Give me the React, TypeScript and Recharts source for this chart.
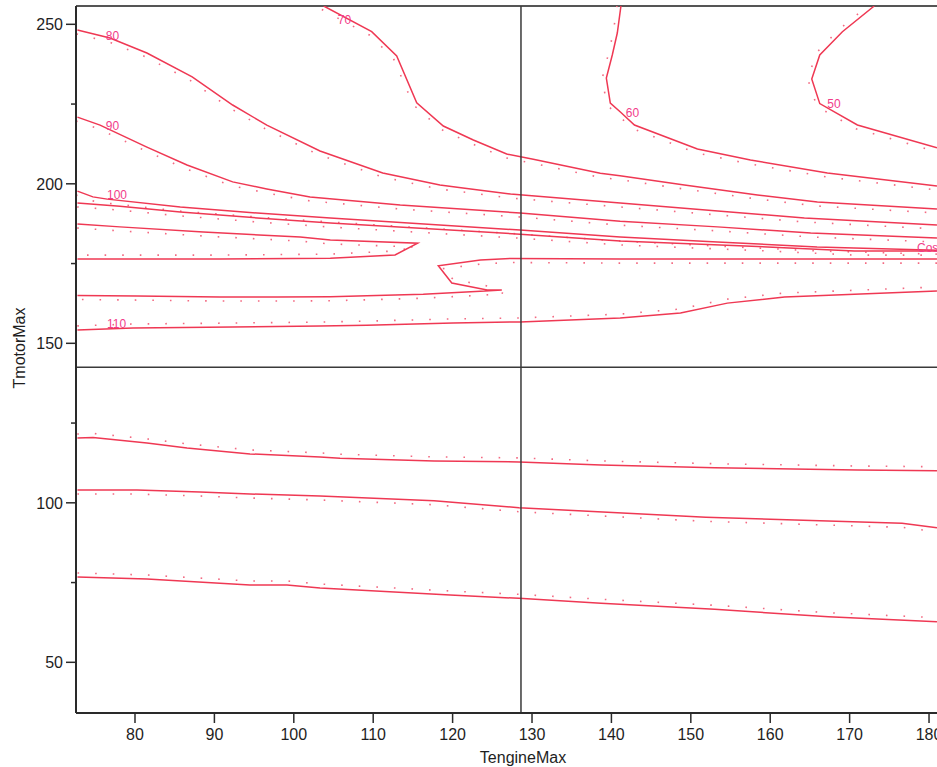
import React from 'react';
import { ComposedChart, Line, Scatter, XAxis, YAxis, ReferenceLine } from 'recharts';

// ---- axis settings ----
const X_MIN = 72.57;
const X_MAX = 185.16;
const Y_MIN = 34.11;
const Y_MAX = 255.74;
const xTicks = [80, 90, 100, 110, 120, 130, 140, 150, 160, 170, 180];
const yTicks = [50, 75, 100, 125, 150, 175, 200, 225, 250];
const crossX = 128.61;
const crossY = 142.48;

// ---- contour lines [TengineMax, TmotorMax] ----
const contour80 = [[72.75,248.2],[76.85,245.7],[81.5,241.0],[87.2,233.5],[92.3,224.7],[96.6,218.4],[103.3,210.3],[111.2,203.4],[118.4,199.6],[121.3,198.7],[127.3,196.8],[141.1,194.0],[153.4,191.5],[164.3,189.3],[181.0,187.1]];
const contour90 = [[72.75,220.9],[75.6,218.4],[81.5,211.5],[86.55,205.9],[92.3,200.6],[96.6,198.4],[102.05,195.9],[113.4,193.35],[128.5,190.85],[141.1,188.3],[153.35,186.5],[165.1,184.6],[181.0,183.0]];
const contour100 = [[72.75,197.7],[74.7,195.9],[76.5,195.2],[85.7,192.7],[95.4,190.85],[104.6,189.3],[128.5,185.5],[141.1,183.3],[153.35,181.75],[165.9,180.2],[181.0,179.2]];
const contourL5 = [[72.75,194.0],[78.1,193.0],[85.7,191.2],[95.4,189.3],[104.6,187.7],[128.5,184.2],[141.1,182.1],[159.65,180.2],[170.6,178.9],[181.0,178.9]];
const contourTongue1 = [[72.75,187.4],[78.1,186.5],[88.6,184.9],[100.8,183.3],[104.6,182.4],[115.6,181.4],[112.75,177.7],[104.6,176.7],[90.7,176.4],[72.75,176.4]];
const contourTongue2 = [[181.0,176.4],[141.1,176.4],[127.25,176.6],[123.5,176.1],[118.2,174.3],[119.9,168.9],[124.35,166.7],[126.2,166.7],[124.1,166.4],[116.3,165.4],[109.2,164.9],[104.6,164.6],[97.9,164.5],[90.7,164.5],[80.25,164.8],[72.75,165.0]];
const contour110 = [[72.75,154.2],[79.75,154.8],[92.3,155.1],[103.3,155.4],[109.2,155.7],[120.06,156.4],[128.5,156.7],[141.1,157.9],[148.7,159.5],[154.6,162.6],[161.8,164.5],[181.0,166.4]];
const contour70 = [[103.77,255.74],[109.81,247.68],[112.96,240.06],[115.48,225.42],[118.83,218.12],[122.61,213.73],[126.81,209.34],[130.16,207.68],[138.6,203.29],[141.08,202.54],[149.19,199.62],[158.39,196.49],[165.94,194.29],[181.0,192.1]];
const contour60 = [[141.2,255.74],[140.74,247.27],[140.11,240.38],[139.36,233.17],[139.86,225.33],[141.13,222.51],[142.9,218.43],[150.83,210.91],[157.51,207.46],[167.2,203.39],[181.0,199.31]];
const contour50 = [[173.1,255.74],[169.09,247.68],[166.24,240.38],[165.23,232.85],[166.24,225.14],[170.98,218.43],[181.0,211.32]];
const contourA = [[72.75,120.3],[74.71,120.5],[81.51,118.78],[86.55,117.21],[94.48,115.33],[103.3,114.39],[105.82,113.98],[117.66,113.14],[128.36,112.82],[138.69,111.88],[153.0,111.0],[170.98,110.28],[181.0,110.06]];
const contourB = [[72.75,104.0],[80.25,104.0],[88.19,103.38],[94.48,102.76],[103.3,102.13],[117.66,100.66],[128.36,98.46],[151.9,95.45],[176.6,93.57],[181.0,92.19]];
const contourC = [[72.75,76.74],[81.51,76.11],[94.48,74.23],[99.14,74.23],[103.3,73.29],[119.68,71.1],[128.36,70.06],[138.69,68.5],[153.0,66.61],[167.33,64.29],[181.0,62.73]];

// side of the small downhill ticks (+1 right-hand of path direction, -1 left-hand)
const contours = [
  { key: 'c80', pts: contour80, side: 1 },
  { key: 'c90', pts: contour90, side: 1 },
  { key: 'c100', pts: contour100, side: 1 },
  { key: 'cL5', pts: contourL5, side: 1 },
  { key: 'cT1', pts: contourTongue1, side: 1 },
  { key: 'cT2', pts: contourTongue2, side: -1 },
  { key: 'c110', pts: contour110, side: -1 },
  { key: 'c70', pts: contour70, side: 1 },
  { key: 'c60', pts: contour60, side: 1 },
  { key: 'c50', pts: contour50, side: 1 },
  { key: 'cA', pts: contourA, side: -1 },
  { key: 'cB', pts: contourB, side: 1 },
  { key: 'cC', pts: contourC, side: -1 },
];

// ---- contour labels ----
const labelTexts = ['80', '90', '100', '110', '70', '60', '50', 'Cost'];
const labelXs = [77.17, 77.17, 77.73, 77.67, 106.39, 142.66, 168.03, 178.49];
const labelYs = [246.33, 218.1, 196.5, 156.05, 251.5, 222.35, 225.17, 179.87];
const labelAnchors = ['middle', 'middle', 'middle', 'middle', 'middle', 'middle', 'middle', 'start'];

// ---- layout ----
const CHART_W = 975;
const CHART_H = 767;
const MARGIN = { top: 6, right: 5, bottom: 0, left: 0 };
const Y_AXIS_W = 76;
const X_AXIS_H = 54;
const PLOT_W = CHART_W - MARGIN.left - MARGIN.right - Y_AXIS_W;
const PLOT_H = CHART_H - MARGIN.top - MARGIN.bottom - X_AXIS_H;
const PX_X = PLOT_W / (X_MAX - X_MIN);
const PX_Y = PLOT_H / (Y_MAX - Y_MIN);

const FONT = '"Liberation Sans", Arial, sans-serif';
const LINE_COLOR = '#ef3853';
const TICK_DOT_COLOR = '#f36a82';
const LABEL_COLOR = '#f23c8a';
const AXIS_COLOR = '#2a2a2a';

const toObjs = (pts: number[][]) => pts.map(([x, y]) => ({ x, y }));

const offsetPts = (pts: number[][], side: number, dist: number) =>
  pts.map((p, i) => {
    const a = pts[Math.max(0, i - 1)];
    const b = pts[Math.min(pts.length - 1, i + 1)];
    const tx = (b[0] - a[0]) * PX_X;
    const ty = -(b[1] - a[1]) * PX_Y;
    const len = Math.hypot(tx, ty) || 1;
    const nx = (-ty / len) * side * dist;
    const ny = (tx / len) * side * dist;
    return { x: p[0] + nx / PX_X, y: p[1] - ny / PX_Y };
  });

const labelData = labelTexts.map((t, i) => ({ x: labelXs[i], y: labelYs[i], text: t, anchor: labelAnchors[i] }));

const LabelShape = (props: any) => {
  const { cx, cy, payload } = props;
  return (
    <text x={cx} y={cy} dy="0.35em" textAnchor={payload.anchor} fontSize={12} fill={LABEL_COLOR} fontFamily={FONT}>
      {payload.text}
    </text>
  );
};

const YTick = (props: any) => {
  const { x, y, payload } = props;
  const major = payload.value % 50 === 0;
  const len = major ? 10 : 5;
  return (
    <g>
      <line x1={x - len} x2={x} y1={y} y2={y} stroke={AXIS_COLOR} strokeWidth={1.5} />
      {major && (
        <text x={x - 13} y={y} dy={5.8} textAnchor="end" fontSize={16} fill="#1e1e1e" fontFamily={FONT}>
          {payload.value}
        </text>
      )}
    </g>
  );
};

const XTick = (props: any) => {
  const { x, y, payload } = props;
  return (
    <g>
      <line x1={x} x2={x} y1={y} y2={y + 10} stroke={AXIS_COLOR} strokeWidth={1.5} />
      <text x={x} y={y + 27} textAnchor="middle" fontSize={16} fill="#1e1e1e" fontFamily={FONT}>
        {payload.value}
      </text>
    </g>
  );
};

const XTitle = (props: any) => {
  const vb = props.viewBox || { x: Y_AXIS_W, y: MARGIN.top + PLOT_H, width: PLOT_W, height: X_AXIS_H };
  return (
    <text x={vb.x + vb.width / 2} y={vb.y + 49.5} textAnchor="middle" fontSize={16} fill="#1e1e1e" fontFamily={FONT}>
      TengineMax
    </text>
  );
};

const YTitle = (props: any) => {
  const vb = props.viewBox || { x: 0, y: MARGIN.top, width: Y_AXIS_W, height: PLOT_H };
  const cx = vb.x + 25;
  const cy = vb.y + vb.height / 2 - 11.5;
  return (
    <text x={cx} y={cy} transform={`rotate(-90, ${cx}, ${cy})`} textAnchor="middle" fontSize={16} fill="#1e1e1e" fontFamily={FONT}>
      TmotorMax
    </text>
  );
};

export default function App() {
  return (
    <div style={{ position: 'absolute', left: 0, top: 0, width: 937, height: 767, overflow: 'hidden', background: '#fff' }}>
      <ComposedChart width={CHART_W} height={CHART_H} margin={MARGIN}>
        <XAxis
          type="number"
          dataKey="x"
          domain={[X_MIN, X_MAX]}
          allowDataOverflow
          ticks={xTicks}
          interval={0}
          height={X_AXIS_H}
          tickSize={0}
          tickMargin={0}
          tickLine={false}
          tick={<XTick />}
          axisLine={{ stroke: AXIS_COLOR, strokeWidth: 2 }}
          label={<XTitle />}
        />
        <YAxis
          type="number"
          dataKey="y"
          domain={[Y_MIN, Y_MAX]}
          allowDataOverflow
          ticks={yTicks}
          interval={0}
          width={Y_AXIS_W}
          tickSize={0}
          tickMargin={0}
          tickLine={false}
          tick={<YTick />}
          axisLine={{ stroke: AXIS_COLOR, strokeWidth: 2 }}
          label={<YTitle />}
        />
        <ReferenceLine y={Y_MAX} stroke="#555" strokeWidth={2} />
        {contours.map((c) => (
          <Line
            key={c.key + '-ticks'}
            data={offsetPts(c.pts, c.side, 4)}
            dataKey="y"
            type="linear"
            stroke={TICK_DOT_COLOR}
            strokeWidth={1.6}
            strokeDasharray="1.6 16"
            dot={false}
            activeDot={false}
            isAnimationActive={false}
          />
        ))}
        {contours.map((c) => (
          <Line
            key={c.key}
            data={toObjs(c.pts)}
            dataKey="y"
            type="linear"
            stroke={LINE_COLOR}
            strokeWidth={1.5}
            dot={false}
            activeDot={false}
            isAnimationActive={false}
          />
        ))}
        <ReferenceLine x={crossX} stroke="#3a3a3a" strokeWidth={1.5} />
        <ReferenceLine y={crossY} stroke="#3a3a3a" strokeWidth={1.5} />
        <Scatter data={labelData} dataKey="y" shape={<LabelShape />} isAnimationActive={false} />
      </ComposedChart>
    </div>
  );
}
